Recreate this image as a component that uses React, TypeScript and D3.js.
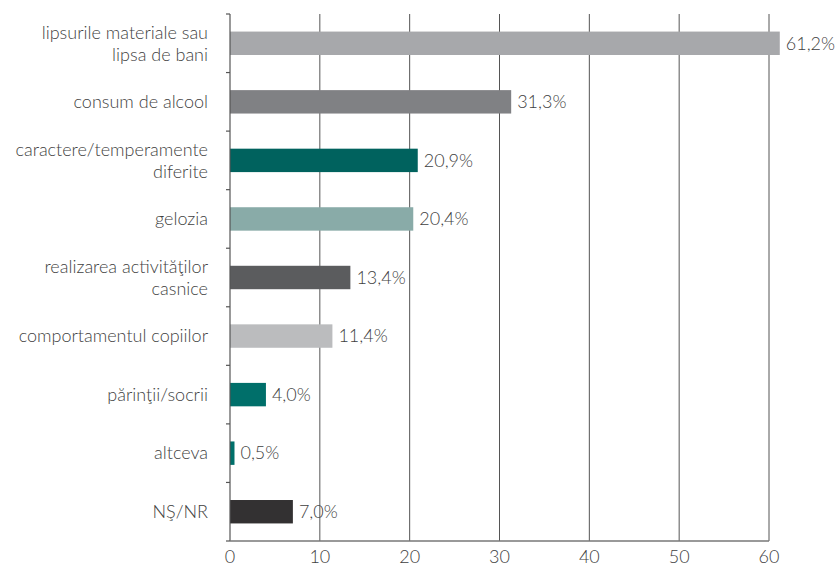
import React from "react";
import * as d3 from "d3";

const categories: string[][] = [
  ["lipsurile materiale sau", "lipsa de bani"],
  ["consum de alcool"],
  ["caractere/temperamente", "diferite"],
  ["gelozia"],
  ["realizarea activităţilor", "casnice"],
  ["comportamentul copiilor"],
  ["părinţii/socrii"],
  ["altceva"],
  ["NŞ/NR"],
];
const values: number[] = [61.2, 31.3, 20.9, 20.4, 13.4, 11.4, 4.0, 0.5, 7.0];
const valueLabels: string[] = ["61,2%", "31,3%", "20,9%", "20,4%", "13,4%", "11,4%", "4,0%", "0,5%", "7,0%"];
const colors: string[] = ["#a7a8ab", "#808184", "#00625e", "#89aba8", "#5b5c5e", "#bbbcbe", "#006f6a", "#006f6a", "#333132"];
const xTicks: number[] = [0, 10, 20, 30, 40, 50, 60];

export default function App() {
  const W = 839, H = 567;
  const left = 230, right = 769, top = 14, bottom = 541;
  const x = d3.scaleLinear().domain([0, 60]).range([left, right]);
  const y = d3.scaleBand<number>().domain(d3.range(categories.length)).range([top, bottom]).paddingInner(0.6).paddingOuter(0.3);
  const step = (bottom - top) / categories.length;
  const font = "Lato, 'Open Sans', sans-serif";
  const textColor = "#3f3f3f";
  const fs = 18;
  return (
    <svg width={W} height={H} style={{ position: "absolute", left: 0, top: 0, fontFamily: font }}>
      {xTicks.filter(t => t > 0).map(t => (
        <line key={"g" + t} x1={x(t)} x2={x(t)} y1={top} y2={bottom} stroke="#555" strokeWidth={1} />
      ))}
      {values.map((v, i) => (
        <rect key={"b" + i} x={x(0)} y={y(i)!} width={x(v) - x(0)} height={y.bandwidth()} fill={colors[i]} />
      ))}
      <line x1={left} x2={left} y1={top} y2={bottom} stroke="#555" strokeWidth={1.2} />
      <line x1={left} x2={right} y1={bottom} y2={bottom} stroke="#777" strokeWidth={1.5} />
      {d3.range(categories.length + 1).map(i => (
        <line key={"t" + i} x1={left - 4} x2={left} y1={top + i * step} y2={top + i * step} stroke="#555" strokeWidth={1.2} />
      ))}
      {xTicks.map(t => (
        <text key={"xl" + t} x={x(t)} y={bottom + 22} textAnchor="middle" fontSize={fs} fontWeight={300} fill={textColor}>{t}</text>
      ))}
      {categories.map((lines, i) => {
        const cy = y(i)! + y.bandwidth() / 2;
        const lh = 22;
        const y0 = cy - ((lines.length - 1) * lh) / 2;
        return (
          <text key={"c" + i} x={208} textAnchor="end" fontSize={fs} fontWeight={300} fill={textColor}>
            {lines.map((l, j) => (
              <tspan key={j} x={208} y={y0 + j * lh} dy="0.35em">{l}</tspan>
            ))}
          </text>
        );
      })}
      {values.map((v, i) => (
        <text key={"v" + i} x={x(v) + 6} y={y(i)! + y.bandwidth() / 2} dy="0.35em" fontSize={fs} fontWeight={300} fill={textColor}>{valueLabels[i]}</text>
      ))}
    </svg>
  );
}
